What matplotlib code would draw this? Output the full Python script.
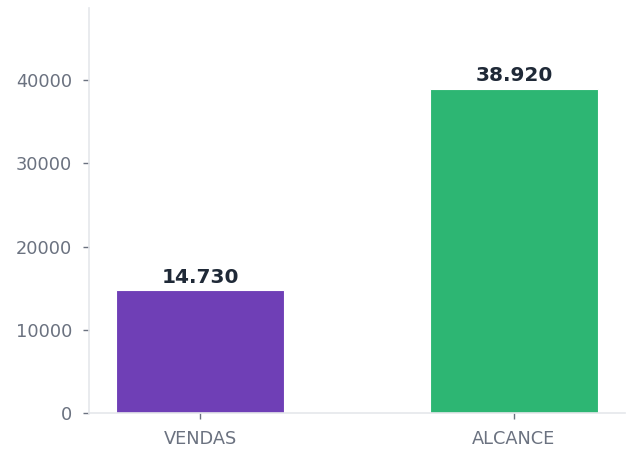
import matplotlib
matplotlib.use('Agg')
import matplotlib.pyplot as plt

categories = ['VENDAS', 'ALCANCE']
values = [14730, 38920]
labels = ['14.730', '38.920']
colors = ['#6f3fb6', '#2db673']

fig = plt.figure(figsize=(6.26, 4.5), dpi=100)
ax = fig.add_axes([0.1422, 0.0822, 0.856, 0.9])

bars = ax.bar(range(len(categories)), values, width=0.535, color=colors,
              edgecolor='white', linewidth=0.8)
for b, lab in zip(bars, labels):
    ax.text(b.get_x() + b.get_width() / 2, b.get_height() + 450, lab,
            ha='center', va='bottom', fontsize=14.5, fontweight='bold',
            color='#1f2937')

ax.set_xlim(-0.3535, 1.3535)
ax.set_ylim(0, max(values) * 1.25)
ax.set_xticks(range(len(categories)))
ax.set_xticklabels(categories)
ax.set_yticks([0, 10000, 20000, 30000, 40000])

for s in ['top', 'right']:
    ax.spines[s].set_visible(False)
for s in ['left', 'bottom']:
    ax.spines[s].set_color('#e5e7eb')
    ax.spines[s].set_linewidth(1.2)
ax.tick_params(colors='#6b7280', labelsize=12.8, length=4, width=1)
ax.tick_params(axis='x', pad=8)
ax.tick_params(axis='y', pad=8)

fig.savefig('out.png', dpi=100)
